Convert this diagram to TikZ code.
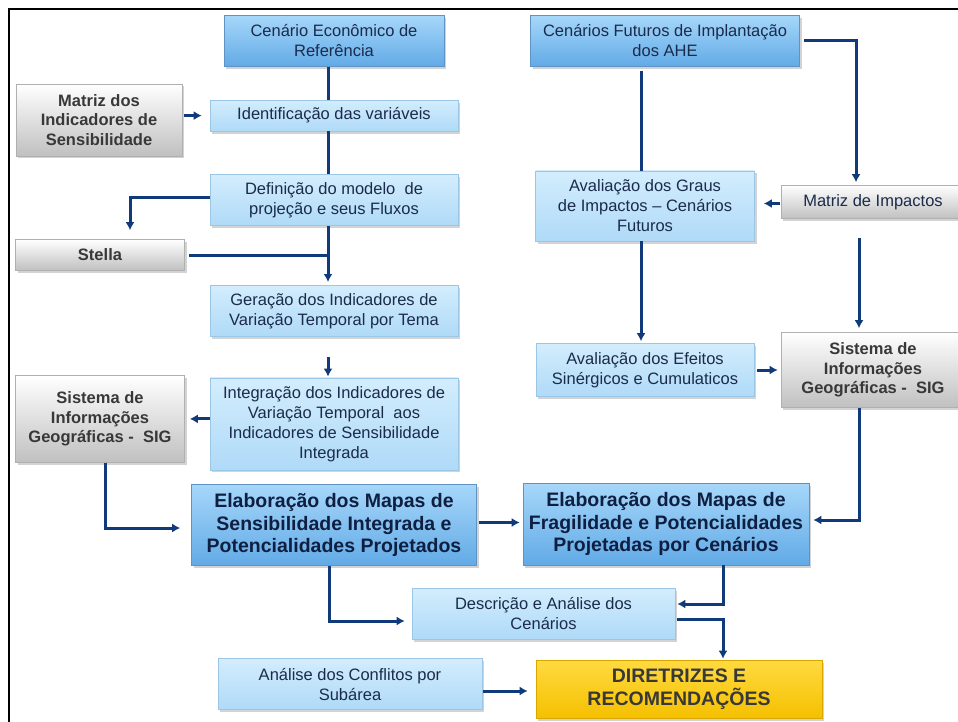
\documentclass[tikz,border=0pt]{standalone}
\usepackage{fontspec}
\setmainfont{Liberation Sans}
\usetikzlibrary{arrows.meta,shadows,positioning}

\definecolor{flowblue}{HTML}{103A7A}
\definecolor{lightA}{HTML}{D3EDFD}
\definecolor{lightB}{HTML}{AFDAF8}
\definecolor{lightE}{HTML}{9CC6E6}
\definecolor{midA}{HTML}{A6D7FA}
\definecolor{midB}{HTML}{62AAE6}
\definecolor{midE}{HTML}{5E93C2}
\definecolor{grayB}{HTML}{C0C0C0}
\definecolor{grayE}{HTML}{B0B0B0}
\definecolor{goldA}{HTML}{FFDA40}
\definecolor{goldB}{HTML}{F5C000}
\definecolor{goldE}{HTML}{D9A800}
\definecolor{inkblue}{HTML}{1B2B4B}
\definecolor{inkdeep}{HTML}{0F1F42}
\definecolor{inkgray}{HTML}{383838}

\begin{document}
\begin{tikzpicture}[x=1pt,y=-1pt,->,>={Latex[length=8pt,width=9pt]}]
    \tikzstyle{box}=[rectangle, inner sep=0pt, align=center, line width=0.6pt,
        drop shadow={shadow xshift=2pt, shadow yshift=-2.5pt, opacity=0.35}]
    \tikzstyle{lightbox}=[box, top color=lightA, bottom color=lightB, draw=lightE,
        text=inkblue, font=\fontsize{16.5}{20}\selectfont]
    \tikzstyle{midbox}=[box, top color=midA, bottom color=midB, draw=midE,
        text=inkblue, font=\fontsize{16.5}{20}\selectfont]
    \tikzstyle{mapbox}=[box, top color=midA, bottom color=midB, draw=midE,
        text=inkdeep, font=\bfseries\fontsize{19.5}{22.5}\selectfont]
    \tikzstyle{graybox}=[box, top color=white, bottom color=grayB, draw=grayE,
        text=inkgray, font=\bfseries\fontsize{16.5}{19.5}\selectfont]
    \tikzstyle{goalbox}=[box, top color=goldA, bottom color=goldB, draw=goldE,
        text=inkgray, font=\bfseries\fontsize{19.5}{23}\selectfont]
    \tikzstyle{flow}=[->, draw=flowblue, line width=3pt]
    \tikzstyle{wire}=[-, draw=flowblue, line width=3pt]

    \path[use as bounding box] (0,0) rectangle (958,722);
    \draw[-, line width=2.2pt] (958,9) -| (9,722);

    % left column
    \node[midbox, minimum width=220pt, minimum height=51pt] (ceco) at (334,41) {Cenário Econômico de\\Referência};
    \node[lightbox, minimum width=248pt, minimum height=31pt] (ident) [below=33pt of ceco] {Identificação das variáveis};
    \node[lightbox, minimum width=248pt, minimum height=51pt] (defin) [below=43pt of ident] {Definição do modelo~ de\\projeção e seus Fluxos};
    \node[lightbox, minimum width=248pt, minimum height=51pt] (gera) [below=59pt of defin] {Geração dos Indicadores de\\Variação Temporal por Tema};
    \node[lightbox, minimum width=248pt, minimum height=92pt] (integ) [below=41pt of gera] {Integração dos Indicadores de\\Variação Temporal~ aos\\Indicadores de Sensibilidade\\Integrada};
    \node[mapbox, minimum width=285pt, minimum height=81pt] (elab1) [below=14pt of integ] {Elaboração dos Mapas de\\Sensibilidade Integrada e\\Potencialidades Projetados};

    \node[graybox, minimum width=166pt, minimum height=72pt] (matriz) at (99,120) {Matriz dos\\Indicadores de\\Sensibilidade};
    \node[graybox, minimum width=169pt, minimum height=31pt] (stella) at (100,255) {Stella};
    \node[graybox, minimum width=169pt, minimum height=87pt] (sigL) at (100,419) {Sistema de\\Informações\\Geográficas -~ SIG};

    % right column
    \node[midbox, minimum width=269pt, minimum height=51pt] (cfut) at (665,41) {Cenários Futuros de Implantação\\dos AHE};
    \node[lightbox, minimum width=219pt, minimum height=70pt] (graus) at (645,206) {Avaliação dos Graus\\de Impactos -- Cenários\\Futuros};
    \node[lightbox, minimum width=218pt, minimum height=53pt] (efeitos) at (645,370) {Avaliação dos Efeitos\\Sinérgicos e Cumulaticos};
    \node[mapbox, minimum width=286pt, minimum height=82pt] (elab2) at (666,524) {Elaboração dos Mapas de\\Fragilidade e Potencialidades\\Projetadas por Cenários};
    \node[graybox, minimum width=184pt, minimum height=33pt, text=inkblue, font=\fontsize{16.5}{20}\selectfont] (mimp) at (873,202) {Matriz de Impactos};
    \node[graybox, minimum width=184pt, minimum height=75pt] (sigR) at (873,370) {Sistema de\\Informações\\Geográficas -~ SIG};

    % bottom
    \node[lightbox, minimum width=263pt, minimum height=51pt] (descr) at (543.5,613.5) {Descrição e Análise dos\\Cenários};
    \node[lightbox, minimum width=264pt, minimum height=51pt] (analise) at (350,684) {Análise dos Conflitos por\\Subárea};
    \node[goalbox, minimum width=286pt, minimum height=58pt] (diret) at (679,689) {DIRETRIZES E\\RECOMENDAÇÕES};

    % connectors, left side
    \path ([xshift=-6pt]ceco.south) edge[wire] ([xshift=-6pt]ident.north);
    \path ([xshift=-6pt]ident.south) edge[wire] ([xshift=-6pt]defin.north);
    \path ([xshift=2pt]matriz.east |- ident.west) edge[flow] ([xshift=-8pt]ident.west);
    \draw[flow] ([yshift=3pt]defin.west) -| ([xshift=30pt,yshift=9pt]stella.north);
    \path ([xshift=-6pt]defin.south) edge[flow] ([xshift=-6pt,yshift=3pt]gera.north);
    \path ([xshift=4pt]stella.east) edge[wire] ([xshift=-6pt]stella.east -| gera.north);
    \path ([xshift=-6pt,yshift=-20pt]gera.south) edge[flow] ([xshift=-6pt,yshift=1pt]integ.north);
    \path ([yshift=5pt]integ.west) edge[flow] ([xshift=5pt,yshift=5pt]integ.west -| sigL.east);
    \draw[flow] ([xshift=5pt]sigL.south) |- ([xshift=-11pt,yshift=-3pt]elab1.west);
    \path ([xshift=2pt,yshift=2.5pt]elab1.east) edge[flow] ([xshift=-3pt,yshift=2.5pt]elab1.east -| elab2.west);

    % connectors, right side
    \path ([xshift=-24pt,yshift=-4pt]cfut.south) edge[wire] ([xshift=-4pt]graus.north);
    \draw[flow] ([xshift=4pt]cfut.east) -| ([xshift=-17pt,yshift=3pt]mimp.north);
    \path ([xshift=-1pt,yshift=-1.5pt]mimp.west) edge[flow] ([xshift=9pt,yshift=-1.5pt]mimp.west -| graus.east);
    \path ([xshift=-4pt]graus.south) edge[flow] ([xshift=-4pt,yshift=2pt]efeitos.north);
    \path ([xshift=-14pt,yshift=-19pt]mimp.south) edge[flow] ([xshift=-14pt,yshift=4pt]sigR.north);
    \path ([xshift=3pt]efeitos.east) edge[flow] ([xshift=-3pt]efeitos.east -| sigR.west);
    \draw[flow] ([xshift=-14pt]sigR.south) |- ([xshift=4pt,yshift=4pt]elab2.east);

    % connectors, bottom
    \draw[flow] ([xshift=-5pt]elab1.south) |- ([xshift=-7pt,yshift=-7.5pt]descr.west);
    \draw[flow] ([xshift=57pt]elab2.south) |- ([xshift=2pt,yshift=9.5pt]descr.east);
    \draw[flow] ([xshift=2pt,yshift=-5.5pt]descr.east) -| ([xshift=44pt,yshift=1pt]diret.north);
    \path ([xshift=1pt,yshift=-7pt]analise.east) edge[flow] ([xshift=-8pt,yshift=-7pt]analise.east -| diret.west);
\end{tikzpicture}
\end{document}
